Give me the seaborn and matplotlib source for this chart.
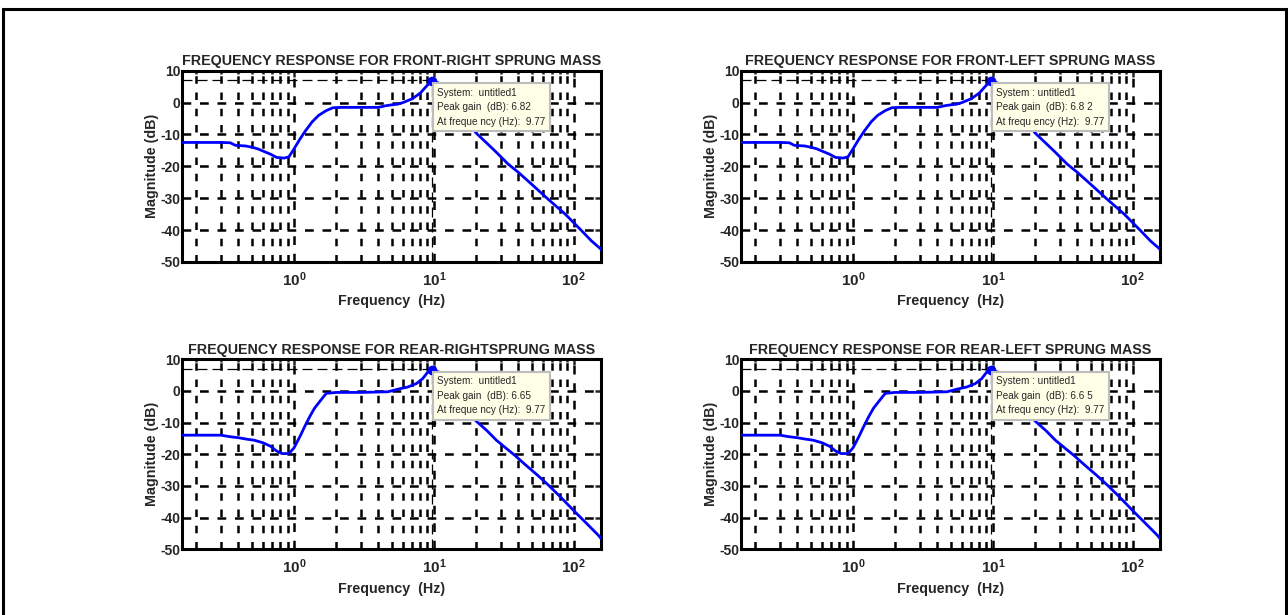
import numpy as np
import pandas as pd
import seaborn as sns
import matplotlib.pyplot as plt
from matplotlib.patches import Rectangle
from matplotlib.ticker import LogLocator, NullFormatter, FixedLocator

# Frequency response (front and rear wheels)
freq_front = [0.157, 0.2, 0.3, 0.35, 0.38, 0.45, 0.5, 0.55, 0.6, 0.68, 0.75, 0.85, 0.92,
              1.0, 1.1, 1.2, 1.35, 1.5, 1.7, 1.9, 2.2, 3.0, 4.0, 4.5, 5.0, 5.5, 6.0, 7.0,
              8.0, 9.0, 9.77, 11, 12, 14, 17, 20, 24, 28, 34, 40, 50, 66, 87, 114,
              134, 155, 158]
mag_front = [-12.5, -12.5, -12.5, -12.6, -13.4, -13.6, -14.0, -14.5, -15.2, -16.2, -17.2,
             -17.4, -17.0, -14.5, -11.5, -9.0, -6.0, -4.0, -2.5, -1.6, -1.5, -1.5, -1.5,
             -1.0, -0.7, -0.5, 0.0, 1.2, 3.0, 5.5, 6.82, 6.0, 4.5, 1.0, -5.0, -9.5,
             -12.8, -15.6, -19.3, -21.8, -25.6, -30.4, -35.0, -40.2, -43.4, -45.8, -46.3]

freq_rear = [0.157, 0.3, 0.35, 0.4, 0.45, 0.52, 0.6, 0.68, 0.75, 0.82, 0.92, 1.0, 1.1,
             1.2, 1.3, 1.4, 1.55, 1.7, 2.0, 3.0, 4.7, 5.5, 6.5, 7.5, 8.3, 9.0, 9.77, 11,
             13, 16, 20, 24, 28, 33, 38, 45, 55, 66, 80, 102, 120, 150, 158]
mag_rear = [-14.0, -14.0, -14.5, -14.8, -15.2, -15.6, -16.4, -17.5, -19.0, -19.8, -19.8,
            -18.0, -14.5, -11.0, -8.0, -5.5, -3.0, -0.8, -0.5, -0.5, -0.3, 0.5, 1.2, 2.3,
            3.8, 5.8, 6.65, 5.8, 2.0, -4.0, -9.5, -12.6, -15.6, -18.2, -20.4, -23.3,
            -26.6, -29.8, -33.4, -38.2, -41.3, -45.6, -46.8]

titles = ['FREQUENCY RESPONSE FOR FRONT-RIGHT SPRUNG MASS',
          'FREQUENCY RESPONSE FOR FRONT-LEFT SPRUNG MASS',
          'FREQUENCY RESPONSE FOR REAR-RIGHTSPRUNG MASS',
          'FREQUENCY RESPONSE FOR REAR-LEFT SPRUNG MASS']
peak_gain = [6.82, 6.82, 6.65, 6.65]
peak_freq = [9.77, 9.77, 9.77, 9.77]
tip_system = ['System:  untitled1', 'System : untitled1', 'System:  untitled1', 'System : untitled1']
tip_freq = ['At freque ncy (Hz):  9.77', 'At frequ ency (Hz):  9.77',
            'At freque ncy (Hz):  9.77', 'At frequ ency (Hz):  9.77']
tip_gain = ['Peak gain  (dB): 6.82', 'Peak gain  (dB): 6.8 2',
            'Peak gain  (dB): 6.65', 'Peak gain  (dB): 6.6 5']

front = pd.DataFrame({'f': freq_front, 'mag': mag_front})
rear = pd.DataFrame({'f': freq_rear, 'mag': mag_rear})
data = [front, front, rear, rear]

sns.set_style('white')
plt.rcParams['font.family'] = ['Liberation Sans', 'DejaVu Sans']
plt.rcParams['axes.unicode_minus'] = False
plt.rcParams['mathtext.fontset'] = 'custom'
plt.rcParams['mathtext.rm'] = 'Liberation Sans'
plt.rcParams['mathtext.bf'] = 'Liberation Sans:bold'

fig = plt.figure(figsize=(12.88, 6.15), dpi=100)
positions = [[0.141, 0.574, 0.326, 0.311],
             [0.575, 0.574, 0.326, 0.311],
             [0.141, 0.107, 0.326, 0.309],
             [0.575, 0.107, 0.326, 0.309]]

for i in range(4):
    ax = fig.add_axes(positions[i])
    ax.set_xscale('log')
    sns.lineplot(x='f', y='mag', data=data[i], ax=ax, color='#0000FF', linewidth=2.0,
                 estimator=None, sort=False, zorder=4)
    # peak response marker and guide lines
    ax.plot([0.157, peak_freq[i]], [peak_gain[i] + 0.3] * 2, color='black', lw=0.9,
            linestyle=(0, (8, 4)), zorder=3)
    ax.plot([peak_freq[i]] * 2, [-50, peak_gain[i]], color='black', lw=0.9,
            linestyle=(0, (8, 4)), zorder=3)
    ax.plot(peak_freq[i], peak_gain[i], 'o', color='#0000FF', markersize=6, zorder=5)

    ax.set_xlim(0.157, 158)
    ax.set_ylim(-50, 10)
    ax.set_yticks([-50, -40, -30, -20, -10, 0, 10])
    ax.xaxis.set_major_locator(FixedLocator([1, 10, 100]))
    ax.set_xticklabels([r'$\mathbf{10^{0}}$', r'$\mathbf{10^{1}}$', r'$\mathbf{10^{2}}$'])
    ax.xaxis.set_minor_locator(LogLocator(base=10, subs=np.arange(2, 10), numticks=20))
    ax.xaxis.set_minor_formatter(NullFormatter())

    ax.grid(True, which='major', axis='both', color='black', linewidth=1.8,
            linestyle=(0, (3.5, 3.5)))
    ax.grid(True, which='minor', axis='x', color='black', linewidth=1.8,
            linestyle=(0, (3, 3.5)))
    ax.tick_params(which='both', direction='in', top=True, right=True, width=1.8)
    ax.tick_params(axis='y', which='major', length=4, labelsize=10, pad=1)
    ax.tick_params(axis='x', which='major', length=4, labelsize=11, pad=6)
    ax.tick_params(which='minor', length=2.5)
    for lab in ax.get_yticklabels():
        lab.set_fontweight('bold')
    for sp in ax.spines.values():
        sp.set_linewidth(2.2)
        sp.set_color('black')

    ax.set_title(titles[i], fontsize=10.3, fontweight='bold', pad=4)
    ax.set_xlabel('Frequency  (Hz)', fontsize=10.3, fontweight='bold', labelpad=4)
    ax.set_ylabel('Magnitude (dB)', fontsize=10.3, fontweight='bold', labelpad=1)

    ax.text(10.6, 4.6, tip_system[i] + '\n' + tip_gain[i] + '\n' + tip_freq[i],
            fontsize=7.2, va='top', ha='left', linespacing=1.55, zorder=6,
            bbox=dict(boxstyle='square,pad=0.45', facecolor='#FFFFE8',
                      edgecolor='#BDBDBD', linewidth=1.5))

# outer frame (bottom edge is cut off in the original)
fig.patches.append(Rectangle((3 / 1288, -0.05), 1283 / 1288, 1.05 - 9 / 615,
                             transform=fig.transFigure, fill=False,
                             edgecolor='black', linewidth=2.2))

fig.savefig('out.png', dpi=100)
